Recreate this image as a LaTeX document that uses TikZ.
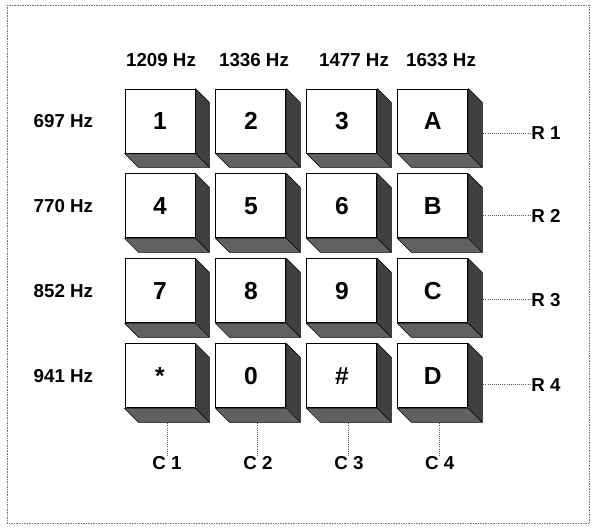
\documentclass[tikz,border=0pt]{standalone}
\usepackage{fontspec}
\setmainfont{Liberation Sans}
\usepackage{tikz}
\usetikzlibrary{positioning, calc, backgrounds}

\begin{document}
\begin{tikzpicture}[
    x=0.03cm, y=-0.03cm,
    node distance=0.6cm and 0.6cm,
    keybox/.style={draw, thick, fill=white, rectangle, minimum width=2.1cm, minimum height=1.92cm, inner sep=0pt, font=\fontsize{21}{21}\selectfont\bfseries},
    freq/.style={font=\fontsize{16}{16}\selectfont\bfseries, inner sep=1pt},
    rclabel/.style={font=\fontsize{16}{16}\selectfont\bfseries, inner sep=1pt},
    sideR/.style={fill=black!75, draw=black, line join=round},
    sideB/.style={fill=black!62, draw=black, line join=round},
    wire/.style={black!65, densely dotted, thick}
]
\useasboundingbox (0,0) rectangle (593,528);
\draw[black!55, densely dotted] (7,5) rectangle (589,523);

% keys
\node[keybox] (k1) at (160,121) {1};
\node[keybox, right=of k1] (k2) {2};
\node[keybox, right=of k2] (k3) {3};
\node[keybox, right=of k3] (kA) {A};
\node[keybox, below=of k1] (k4) {4};
\node[keybox, right=of k4] (k5) {5};
\node[keybox, right=of k5] (k6) {6};
\node[keybox, right=of k6] (kB) {B};
\node[keybox, below=of k4] (k7) {7};
\node[keybox, right=of k7] (k8) {8};
\node[keybox, right=of k8] (k9) {9};
\node[keybox, right=of k9] (kC) {C};
\node[keybox, below=of k7] (kStar) {*};
\node[keybox, right=of kStar] (k0) {0};
\node[keybox, right=of k0] (kHash) {\#};
\node[keybox, right=of kHash] (kD) {D};

% 3d sides
\begin{scope}[on background layer]
\foreach \k in {k1,k2,k3,kA,k4,k5,k6,kB,k7,k8,k9,kC,kStar,k0,kHash,kD} {
    \filldraw[sideR] (\k.north east) -- ++(14,14) -- ($(\k.south east)+(14,14)$) -- (\k.south east) -- cycle;
    \filldraw[sideB] (\k.south west) -- (\k.south east) -- ($(\k.south east)+(14,14)$) -- ($(\k.south west)+(14,14)$) -- cycle;
}
\end{scope}

% column frequencies
\node[freq] (f1209) at (161,60) {1209 Hz};
\node[freq] (f1336) at (254,60) {1336 Hz};
\node[freq] (f1477) at (354,60) {1477 Hz};
\node[freq] (f1633) at (441,60) {1633 Hz};

% row frequencies
\node[freq, left=0.9cm of k1] (f697) {697 Hz};
\node[freq, left=0.9cm of k4] (f770) {770 Hz};
\node[freq, left=0.9cm of k7] (f852) {852 Hz};
\node[freq, left=0.9cm of kStar] (f941) {941 Hz};

% row lines
\coordinate (r1) at ($(kA.east)+(15,12)$);
\coordinate (r2) at ($(kB.east)+(15,10)$);
\coordinate (r3) at ($(kC.east)+(15,9)$);
\coordinate (r4) at ($(kD.east)+(15,9)$);
\node[rclabel, right=1.4cm of r1] (R1) {R 1};
\node[rclabel, right=1.4cm of r2] (R2) {R 2};
\node[rclabel, right=1.4cm of r3] (R3) {R 3};
\node[rclabel, right=1.4cm of r4] (R4) {R 4};
\draw[wire] (r1) -- (R1);
\draw[wire] (r2) -- (R2);
\draw[wire] (r3) -- (R3);
\draw[wire] (r4) -- (R4);

% column lines
\coordinate (c1) at ($(kStar.south)+(7,15)$);
\coordinate (c2) at ($(k0.south)+(7,15)$);
\coordinate (c3) at ($(kHash.south)+(7,15)$);
\coordinate (c4) at ($(kD.south)+(7,15)$);
\node[rclabel, below=0.95cm of c1] (C1) {C 1};
\node[rclabel, below=0.95cm of c2] (C2) {C 2};
\node[rclabel, below=0.95cm of c3] (C3) {C 3};
\node[rclabel, below=0.95cm of c4] (C4) {C 4};
\draw[wire] (c1) -- (C1);
\draw[wire] (c2) -- (C2);
\draw[wire] (c3) -- (C3);
\draw[wire] (c4) -- (C4);

\end{tikzpicture}
\end{document}
